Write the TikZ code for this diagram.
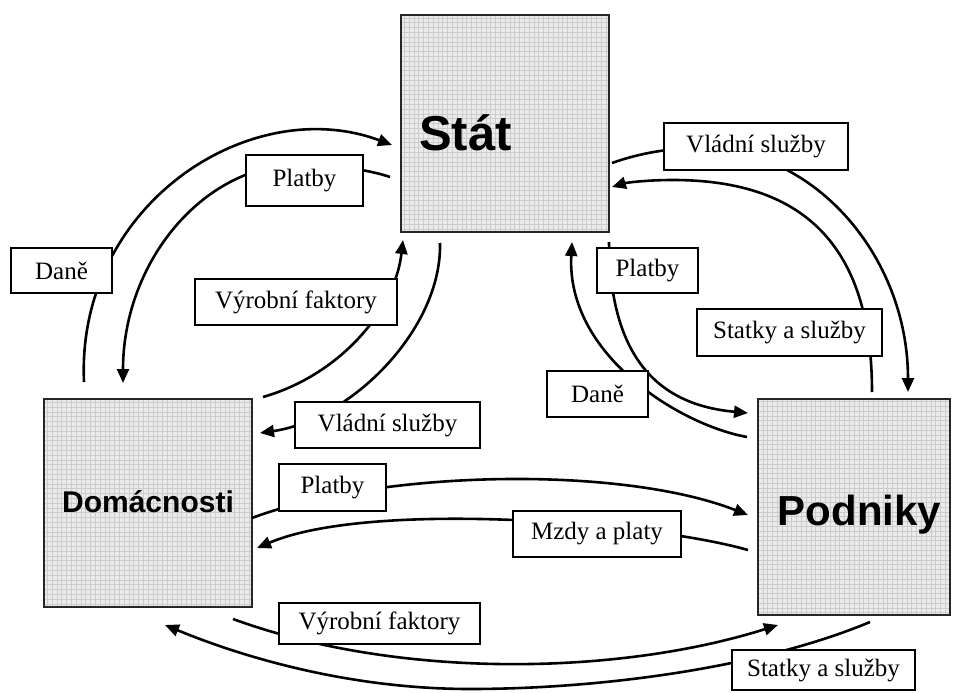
\documentclass[tikz,border=0pt]{standalone}
\usepackage{fontspec}
\setmainfont{Liberation Serif}
\newfontfamily\headfont{Liberation Sans}
\usetikzlibrary{arrows.meta}

\begin{document}
\begin{tikzpicture}[x=1pt,y=-1pt,
  sector/.style={draw=black!85, line width=1.3pt, fill=black!8, inner sep=0pt,
    path picture={\draw[black!20, line width=0.45pt]
      (path picture bounding box.south west) grid[step=4.8pt]
      (path picture bounding box.north east);}},
  sectorname/.style={anchor=base, inner sep=0pt},
  tag/.style={draw, line width=1.1pt, fill=white, inner sep=0pt,
    font=\fontsize{25}{30}\selectfont},
  flow/.style={line width=2.6pt, -{Triangle[length=14pt,width=12pt]}}]

\useasboundingbox (0,0) rectangle (954,693);

% the three sectors
\node[sector, minimum width=208pt, minimum height=217pt] (stat) at (505,123.5) {};
\node[sector, minimum width=208pt, minimum height=208pt] (dom) at (148,503) {};
\node[sector, minimum width=192pt, minimum height=216pt] (pod) at (854,507) {};
\node[sectorname, font=\headfont\bfseries\fontsize{49}{56}\selectfont] (statname) at (465.5,150) {Stát};
\node[sectorname, font=\headfont\bfseries\fontsize{30}{36}\selectfont] (domname) at (148,512) {Domácnosti};
\node[sectorname, font=\headfont\bfseries\fontsize{42}{50}\selectfont] (podname) at (859.5,525) {Podniky};

% end points of the flows
\coordinate (h-tax) at (84,382);     \coordinate (s-tax) at (392,145);
\coordinate (s-pay) at (390,177);    \coordinate (h-pay) at (123,383);
\coordinate (h-fac) at (263,397);    \coordinate (s-fac) at (403,240);
\coordinate (s-gov) at (440,243);    \coordinate (h-gov) at (260,433);
\coordinate (s-gov2) at (612,163);   \coordinate (f-gov) at (908,392);
\coordinate (f-goods) at (872,392);  \coordinate (s-goods) at (612,187);
\coordinate (s-pay2) at (609,242);   \coordinate (f-pay) at (748,413);
\coordinate (f-tax) at (747,437);    \coordinate (s-tax2) at (572,242);
\coordinate (h-pay3) at (252,518);   \coordinate (f-pay3) at (748,515);
\coordinate (f-wage) at (748,550);   \coordinate (h-wage) at (257,548);
\coordinate (h-fac2) at (233,619);   \coordinate (f-fac2) at (778,625);
\coordinate (f-goods2) at (870,622); \coordinate (h-goods2) at (165,625);

% flows between the sectors
\draw[flow] (h-tax) .. controls (76,205) and (250,92) .. (s-tax);
\draw[flow] (s-pay) .. controls (370,170) and (330,164) .. (300,164)
            .. controls (202,165) and (123,263) .. (h-pay);
\draw[flow] (h-fac) .. controls (340,375) and (395,310) .. (s-fac);
\draw[flow] (s-gov) .. controls (442,330) and (350,420) .. (h-gov);
\draw[flow] (s-gov2) .. controls (640,153) and (670,148) .. (700,148)
            .. controls (815,148) and (908,257) .. (f-gov);
\draw[flow] (f-goods) .. controls (872,244) and (802,180) .. (673,180)
            .. controls (645,180) and (625,183) .. (s-goods);
\draw[flow] (s-pay2) .. controls (610,360) and (660,405) .. (f-pay);
\draw[flow] (f-tax) .. controls (680,425) and (566,355) .. (s-tax2);
\draw[flow] (h-pay3) .. controls (380,470) and (620,465) .. (f-pay3);
\draw[flow] (f-wage) .. controls (650,522) and (370,500) .. (h-wage);
\draw[flow] (h-fac2) .. controls (400,680) and (620,675) .. (f-fac2);
\draw[flow] (f-goods2) .. controls (760,668) and (600,689) .. (470,689)
            .. controls (340,689) and (230,652) .. (h-goods2);

% labels on the flows
\node[tag, minimum width=101pt, minimum height=45pt] (dane1) at (61.5,270.5) {Daně};
\node[tag, minimum width=117pt, minimum height=51pt] (platby1) at (304.5,180.5) {Platby};
\node[tag, minimum width=202pt, minimum height=46pt] (vyrob1) at (296,302) {Výrobní faktory};
\node[tag, minimum width=184pt, minimum height=47pt] (vlad1) at (756,146.5) {Vládní služby};
\node[tag, minimum width=101pt, minimum height=45pt] (platby2) at (647.5,270.5) {Platby};
\node[tag, minimum width=185pt, minimum height=47pt] (statky1) at (789.5,332.5) {Statky a služby};
\node[tag, minimum width=101pt, minimum height=46pt] (dane2) at (597.5,394) {Daně};
\node[tag, minimum width=185pt, minimum height=46pt] (vlad2) at (387.5,425) {Vládní služby};
\node[tag, minimum width=107pt, minimum height=47pt] (platby3) at (332.5,487.5) {Platby};
\node[tag, minimum width=168pt, minimum height=46pt] (mzdy) at (597,534) {Mzdy a platy};
\node[tag, minimum width=201pt, minimum height=41pt] (vyrob2) at (379.5,623.5) {Výrobní faktory};
\node[tag, minimum width=183pt, minimum height=40pt] (statky2) at (823.5,670) {Statky a služby};
\end{tikzpicture}
\end{document}
